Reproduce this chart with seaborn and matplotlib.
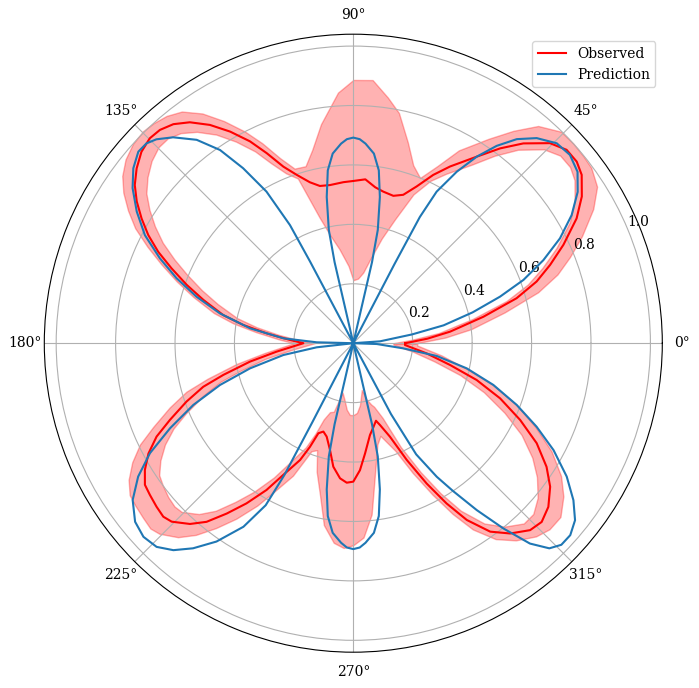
import numpy as np
import matplotlib
matplotlib.use("Agg")
import matplotlib.pyplot as plt
import seaborn as sns

# observed curve and its band (degrees, radius)
obs_deg = [0, 3.5, 6.8, 11.5, 15.4, 18.6, 21.7, 25.1, 29.2, 32.7, 36.4, 39.1, 42.2,
           45.5, 49.6, 53.0, 56.5, 61.3, 64.6, 68.0, 71.4, 74.8, 78.8, 82.0, 85.8,
           90, 93.5, 98.4, 102.0, 105.1, 108.6, 111.6, 114.5, 117.1, 120.2, 123.3,
           126.5, 129.4, 132.2, 134.8, 137.9, 141.1, 144.1, 146.8, 149.5, 152.2,
           154.9, 157.6, 160.7, 163.9, 167.8, 170.6, 173.5, 177.1, 180,
           186.3, 190.1, 193.7, 196.2, 199.3, 202.7, 205.4, 208.3, 211.3, 214.2,
           216.7, 219.7, 222.4, 224.5, 227.9, 230.6, 233.4, 236.3, 239.4, 242.0,
           245.5, 247.3, 248.8, 251.3, 254.1, 257.7, 260.8, 264.4, 267.3, 270,
           273.0, 276.1, 280.3, 283.4, 286.3, 288.1, 291.4, 294.6, 297.6, 300.2,
           302.7, 306.0, 309.5, 313.4, 316.5, 320.0, 323.9, 327.4, 331.4, 335.3,
           339.4, 343.4, 347.3, 352.1, 358, 360]
obs_r = [0.175, 0.25, 0.328, 0.447, 0.57, 0.651, 0.713, 0.781, 0.861, 0.914, 0.955,
         0.969, 0.969, 0.944, 0.883, 0.821, 0.753, 0.678, 0.627, 0.569, 0.527, 0.514,
         0.520, 0.530, 0.553, 0.546, 0.543, 0.538, 0.541, 0.561, 0.598, 0.639, 0.703,
         0.763, 0.824, 0.879, 0.925, 0.954, 0.969, 0.972, 0.961, 0.937, 0.908, 0.871,
         0.827, 0.780, 0.725, 0.662, 0.594, 0.525, 0.448, 0.375, 0.294, 0.213, 0.168,
         0.260, 0.353, 0.450, 0.526, 0.595, 0.669, 0.733, 0.783, 0.821, 0.848, 0.854,
         0.861, 0.866, 0.857, 0.820, 0.778, 0.714, 0.648, 0.574, 0.502, 0.432, 0.378,
         0.325, 0.314, 0.327, 0.368, 0.421, 0.457, 0.470, 0.466,
         0.428, 0.373, 0.314, 0.291, 0.272, 0.290, 0.338, 0.432, 0.533, 0.624, 0.707,
         0.784, 0.830, 0.866, 0.874, 0.857, 0.820, 0.772, 0.703, 0.618, 0.528, 0.433,
         0.334, 0.249, 0.174, 0.175]
obs_lo = [0.135, 0.20, 0.29, 0.41, 0.535, 0.62, 0.685, 0.755, 0.835, 0.885, 0.925,
          0.94, 0.94, 0.915, 0.855, 0.79, 0.72, 0.65, 0.605, 0.54, 0.44, 0.365, 0.285,
          0.24, 0.218, 0.212, 0.26, 0.32, 0.37, 0.44, 0.585, 0.615, 0.665, 0.725,
          0.785, 0.84, 0.885, 0.915, 0.93, 0.93, 0.915, 0.89, 0.86, 0.82, 0.775,
          0.725, 0.665, 0.605, 0.54, 0.475, 0.40, 0.33, 0.255, 0.18, 0.13,
          0.21, 0.30, 0.39, 0.465, 0.535, 0.61, 0.67, 0.72, 0.76, 0.79, 0.80, 0.81,
          0.815, 0.81, 0.775, 0.73, 0.665, 0.60, 0.525, 0.455, 0.385, 0.33, 0.275,
          0.245, 0.24, 0.17, 0.19, 0.225, 0.242, 0.242,
          0.235, 0.21, 0.16, 0.195, 0.215, 0.225, 0.27, 0.385, 0.49, 0.585, 0.67,
          0.75, 0.80, 0.835, 0.835, 0.81, 0.765, 0.715, 0.645, 0.56, 0.47, 0.375,
          0.28, 0.20, 0.135, 0.135]
obs_hi = [0.215, 0.31, 0.40, 0.52, 0.645, 0.725, 0.785, 0.85, 0.925, 0.975, 0.995,
          0.998, 1.0, 0.998, 0.96, 0.895, 0.825, 0.74, 0.66, 0.60, 0.632, 0.70, 0.79,
          0.835, 0.888, 0.886, 0.845, 0.745, 0.665, 0.617, 0.62, 0.67, 0.74, 0.80,
          0.865, 0.925, 0.97, 0.99, 1.0, 1.005, 1.0, 0.985, 0.96, 0.925, 0.88, 0.83,
          0.765, 0.70, 0.63, 0.56, 0.48, 0.41, 0.33, 0.25, 0.20,
          0.30, 0.40, 0.505, 0.585, 0.655, 0.73, 0.795, 0.845, 0.885, 0.91, 0.915,
          0.92, 0.925, 0.915, 0.88, 0.835, 0.775, 0.71, 0.635, 0.565, 0.49, 0.43,
          0.39, 0.38, 0.45, 0.525, 0.62, 0.675, 0.69, 0.68,
          0.655, 0.58, 0.42, 0.35, 0.325, 0.345, 0.39, 0.48, 0.575, 0.665, 0.745,
          0.815, 0.86, 0.895, 0.91, 0.91, 0.875, 0.83, 0.76, 0.675, 0.585, 0.49,
          0.39, 0.30, 0.215, 0.215]

# prediction curve, traced lobe by lobe (degrees, radius)
pred_deg = [0, 4, 8.5, 11.2, 14.5, 17.6, 20.4, 23.6, 26.9, 30.4, 34.0, 37.4, 41.0,
            44.5, 48.2, 51.3, 54.0, 56.5, 58.9, 61.2, 62.2, 62.5, 62.5,
            77, 77, 77.8, 79.7, 81.6, 83.8, 86.5, 88.2, 90, 91.8, 93.5, 96.2, 98.4,
            100.3, 102.2, 103, 103,
            117.8, 117.9, 118.2, 119.8, 122.2, 124.6, 127.6, 131.2, 134.0, 136.0,
            138.3, 141.5, 144.9, 148.7, 152.6, 156.3, 159.8, 163.5, 167.4, 171.8,
            176.0, 178.6, 180,
            186.4, 189.6, 193.7, 197.4, 201.1, 204.9, 208.4, 211.8, 215.4, 219.3,
            222.7, 226.0, 229.0, 232.0, 235.4, 239.1, 241.6, 242.4, 242.6, 242.6,
            257, 257, 257.8, 259.7, 261.6, 263.8, 266.5, 268.2, 270, 271.8, 273.5,
            276.2, 278.4, 280.3, 282.2, 283, 283,
            298, 298, 299.5, 302, 304, 306.5, 309, 311.4, 313.7, 315.9, 318.5, 321.4,
            324.5, 328, 331.9, 335.5, 339.3, 343.4, 347.5, 351.3, 354.1, 358, 360]
pred_r = [0, 0.09, 0.2, 0.31, 0.415, 0.518, 0.611, 0.698, 0.78, 0.852, 0.911, 0.950,
          0.966, 0.960, 0.926, 0.880, 0.821, 0.753, 0.674, 0.582, 0.48, 0.3, 0,
          0, 0.28, 0.39, 0.5, 0.588, 0.642, 0.673, 0.687, 0.692, 0.687, 0.673, 0.642,
          0.588, 0.5, 0.39, 0.28, 0,
          0, 0.311, 0.451, 0.588, 0.696, 0.790, 0.864, 0.921, 0.954, 0.968, 0.969,
          0.946, 0.908, 0.853, 0.790, 0.711, 0.634, 0.550, 0.460, 0.351, 0.236,
          0.123, 0,
          0.124, 0.239, 0.358, 0.47, 0.577, 0.68, 0.778, 0.852, 0.911, 0.949, 0.961,
          0.953, 0.923, 0.876, 0.811, 0.72, 0.62, 0.5, 0.3, 0,
          0, 0.28, 0.39, 0.5, 0.588, 0.642, 0.673, 0.688, 0.693, 0.688, 0.673, 0.642,
          0.588, 0.5, 0.39, 0.28, 0,
          0, 0.27, 0.43, 0.53, 0.6, 0.699, 0.802, 0.899, 0.955, 0.975, 0.975, 0.955,
          0.91, 0.847, 0.764, 0.678, 0.588, 0.492, 0.391, 0.284, 0.169, 0.079, 0]

plt.rcParams["font.family"] = "serif"

W, H = 699, 688
cx, cy, rad = 353.3, 343.2, 309
fig = plt.figure(figsize=(W / 100, H / 100), dpi=100)
ax = fig.add_axes([(cx - rad) / W, (H - cy - rad) / H, 2 * rad / W, 2 * rad / H],
                  projection="polar")

th_obs = np.deg2rad(obs_deg)
ax.fill_between(th_obs, obs_lo, obs_hi, color="red", alpha=0.3)
sns.lineplot(x=th_obs, y=obs_r, ax=ax, color="red", label="Observed",
             estimator=None, sort=False, linewidth=1.5)
sns.lineplot(x=np.deg2rad(pred_deg), y=pred_r, ax=ax, color="#1f77b4",
             label="Prediction", estimator=None, sort=False, linewidth=1.5)

ax.set_ylim(0, 1.04)
ax.set_yticks([0.2, 0.4, 0.6, 0.8, 1.0])
ax.set_xlabel("")
ax.set_ylabel("")
ax.grid(True)
ax.legend(loc="upper right")

fig.savefig("out.png", dpi=100)
